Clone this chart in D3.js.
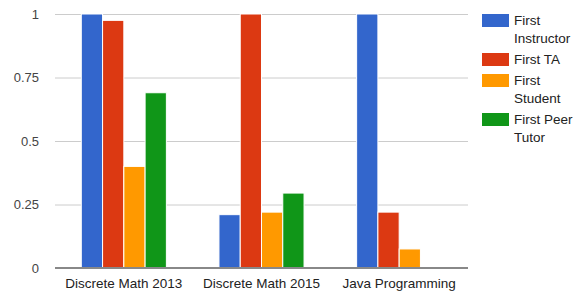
<!DOCTYPE html>
<html>
<head>
<meta charset="utf-8">
<script src="https://cdn.jsdelivr.net/npm/d3@7"></script>
<style>
  body { margin: 0; background: #fff; }
  text { font-family: "Liberation Sans", Arial, sans-serif; }
</style>
</head>
<body>
<div id="chart"></div>
<script>
// data
var courses = ["Discrete Math 2013", "Discrete Math 2015", "Java Programming"];
var series = ["First Instructor", "First TA", "First Student", "First Peer Tutor"];
var legendLines = [["First", "Instructor"], ["First TA"], ["First", "Student"], ["First Peer", "Tutor"]];
var firstInstructor = [1, 0.21, 1];
var firstTA = [0.975, 1, 0.22];
var firstStudent = [0.4, 0.22, 0.075];
var firstPeerTutor = [0.69, 0.295, 0];
var yTicks = [0, 0.25, 0.5, 0.75, 1];
var colors = ["#3366cc", "#dc3912", "#ff9900", "#109618"];

var values = [firstInstructor, firstTA, firstStudent, firstPeerTutor];

var W = 584, H = 293;
var margin = { top: 14, right: 116, bottom: 25, left: 55 },
  width = W - margin.left - margin.right,
  height = H - margin.top - margin.bottom;

var svg = d3.select("#chart")
  .append("svg")
  .attr("width", W)
  .attr("height", H)
  .append("g")
  .attr("transform", "translate(" + margin.left + "," + margin.top + ")");

var x0 = d3.scaleBand()
  .domain(courses)
  .range([0, width])
  .paddingInner(0.382)
  .paddingOuter(0.191);

var x1 = d3.scaleBand()
  .domain(series)
  .range([0, x0.bandwidth()]);

var y = d3.scaleLinear()
  .domain([0, 1])
  .range([height, 0]);

// gridlines
svg.selectAll(".grid")
  .data(yTicks.filter(function (d) { return d > 0; }))
  .enter()
  .append("line")
  .attr("x1", 0)
  .attr("x2", width)
  .attr("y1", function (d) { return y(d) + 0.5; })
  .attr("y2", function (d) { return y(d) + 0.5; })
  .style("stroke", "#cccccc")
  .style("stroke-width", 1);

// y labels
svg.selectAll(".ylab")
  .data(yTicks)
  .enter()
  .append("text")
  .attr("x", -16)
  .attr("y", function (d) { return y(d); })
  .attr("dy", "0.35em")
  .attr("text-anchor", "end")
  .attr("font-size", 13)
  .attr("fill", "#444")
  .text(function (d) { return d; });

// bars
var groups = svg.selectAll(".course")
  .data(courses)
  .enter()
  .append("g")
  .attr("transform", function (d) { return "translate(" + x0(d) + ",0)"; });

groups.selectAll("rect")
  .data(function (c, i) {
    return series.map(function (s, j) { return { s: s, v: values[j][i], c: colors[j] }; });
  })
  .enter()
  .filter(function (d) { return d.v > 0; })
  .append("rect")
  .attr("x", function (d) { return x1(d.s); })
  .attr("y", function (d) { return y(d.v); })
  .attr("width", x1.bandwidth())
  .attr("height", function (d) { return height - y(d.v); })
  .style("fill", function (d) { return d.c; })
  .style("stroke", "#fff")
  .style("stroke-width", 1);

// baseline
svg.append("line")
  .attr("x1", 0)
  .attr("x2", width)
  .attr("y1", height)
  .attr("y2", height)
  .style("stroke", "#888")
  .style("stroke-width", 2);

// x labels
svg.selectAll(".xlab")
  .data(courses)
  .enter()
  .append("text")
  .attr("x", function (d) { return x0(d) + x0.bandwidth() / 2; })
  .attr("y", height + 20)
  .attr("text-anchor", "middle")
  .attr("font-size", 13.5)
  .attr("fill", "#222")
  .text(function (d) { return d; });

// legend
var legendTop = [0, 39, 60, 99];
var legend = svg.append("g")
  .attr("transform", "translate(" + (width + 14) + ",0)");

series.forEach(function (s, i) {
  var g = legend.append("g").attr("transform", "translate(0," + legendTop[i] + ")");
  g.append("rect")
    .attr("x", 0)
    .attr("y", 0)
    .attr("width", 27)
    .attr("height", 13)
    .style("fill", colors[i]);
  legendLines[i].forEach(function (t, k) {
    g.append("text")
      .attr("x", 32)
      .attr("y", 6.5 + k * 18)
      .attr("dy", "0.35em")
      .attr("font-size", 13.5)
      .attr("fill", "#222")
      .text(t);
  });
});
</script>
</body>
</html>
